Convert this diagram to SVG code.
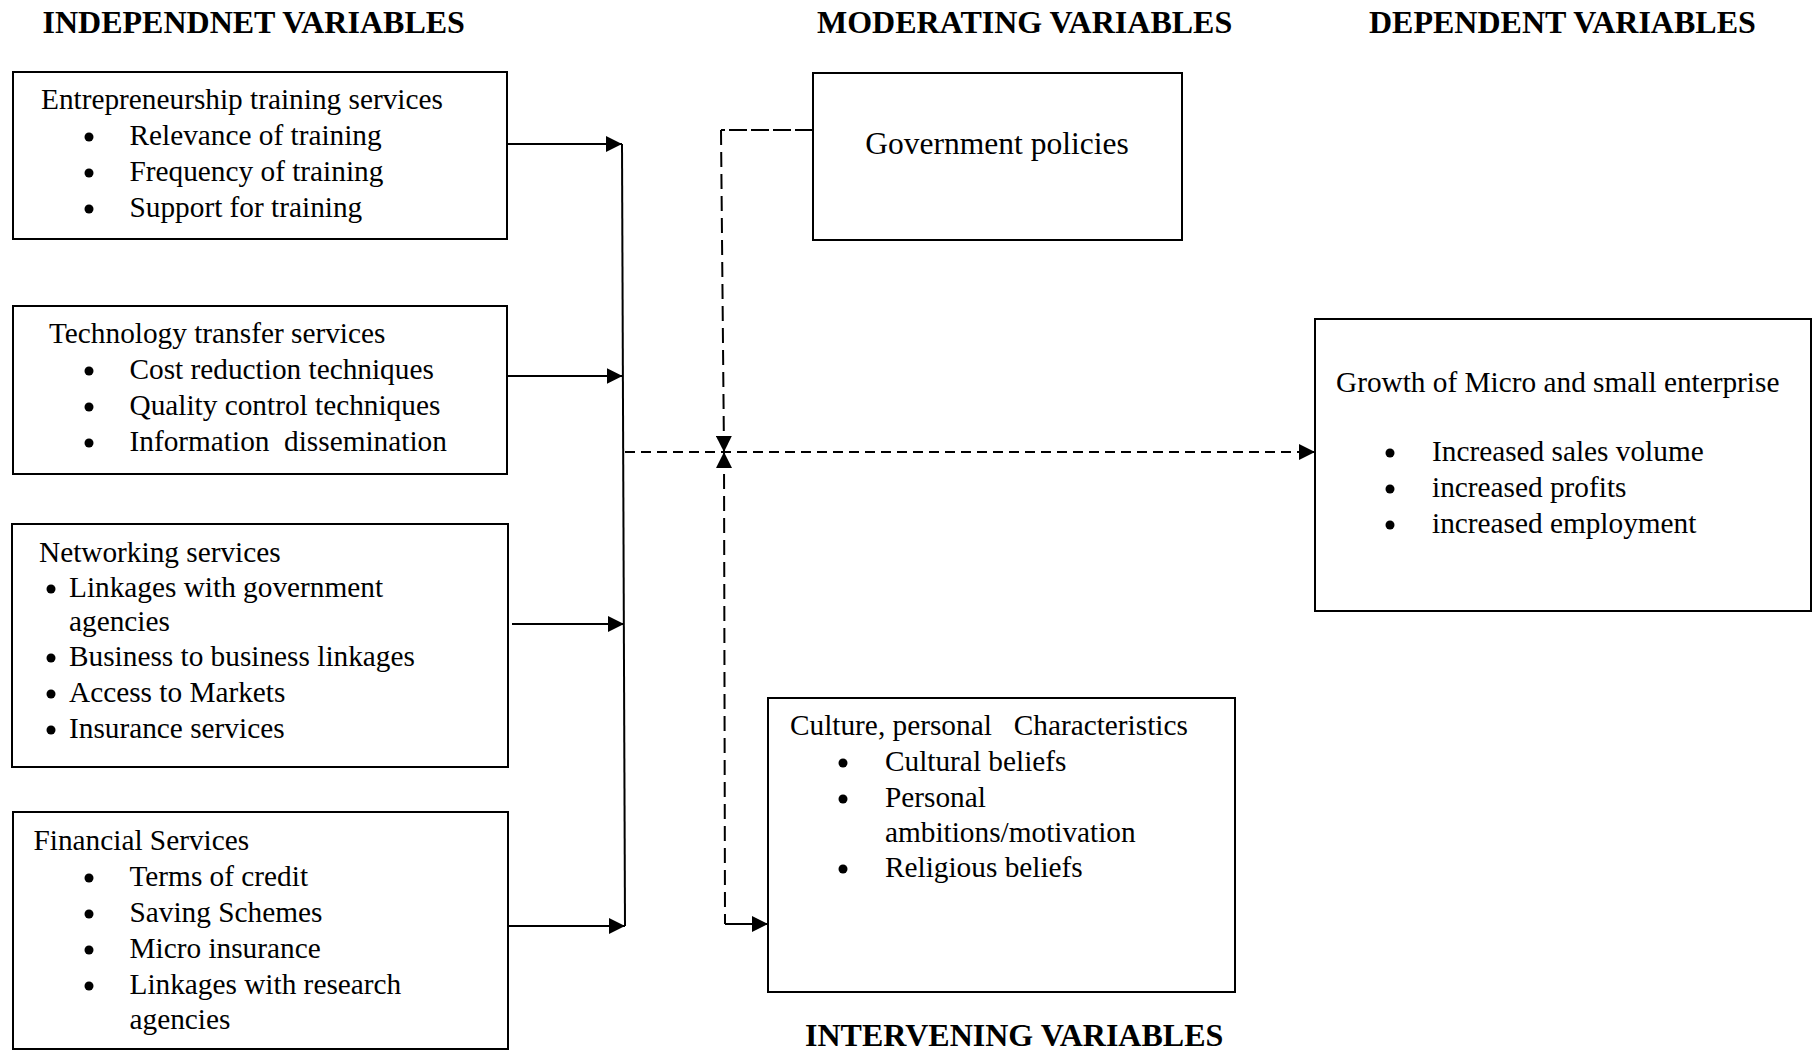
<svg xmlns="http://www.w3.org/2000/svg" width="1814" height="1050" viewBox="0 0 1814 1050">
<defs>
<marker id="arr" markerUnits="userSpaceOnUse" markerWidth="16" markerHeight="16" refX="15" refY="7.5" orient="auto-start-reverse" viewBox="0 0 15 15">
<path d="M0,0 L15,7.5 L0,15 Z" fill="#000"/>
</marker>
<style>
.box{fill:#fff;stroke:#000;stroke-width:2}
.t{font-family:"Liberation Serif","Times New Roman",serif;font-size:29.3px;fill:#000;white-space:pre}
.b{fill:#000}
.h{font-family:"Liberation Serif","Times New Roman",serif;font-size:32px;font-weight:bold;fill:#000}
.ln{fill:none;stroke:#000;stroke-width:2}
.dh{stroke-dasharray:10 6}
.dv{stroke-dasharray:15 7}
.dg{stroke-dasharray:18 4}
</style>
</defs>
<rect width="1814" height="1050" fill="#fff"/>

<g id="titles">
<text class="h" x="42.5" y="33">INDEPENDNET VARIABLES</text>
<text class="h" x="817" y="33">MODERATING VARIABLES</text>
<text class="h" x="1369" y="33">DEPENDENT VARIABLES</text>
<text class="h" x="805" y="1046">INTERVENING VARIABLES</text>
</g>

<g id="connectors">
<path class="ln" d="M622,144 L625,926"/>
<path class="ln" d="M503,144 L622,144" marker-end="url(#arr)"/>
<path class="ln" d="M507,376 L622.5,376" marker-end="url(#arr)"/>
<path class="ln" d="M512,624 L624,624" marker-end="url(#arr)"/>
<path class="ln" d="M508,926 L625,926" marker-end="url(#arr)"/>
<path class="ln dh" d="M625,452 L1315,452" marker-end="url(#arr)"/>
<path class="ln dg" d="M813,130 L721,130"/>
<path class="ln dv" d="M721,130 L724,452" marker-end="url(#arr)"/>
<path class="ln dv" d="M724,452 L725,924" marker-start="url(#arr)"/>
<path class="ln" d="M725,924 L768,924" marker-end="url(#arr)"/>
</g>

<g id="entrepreneurship">
<rect class="box" x="13" y="72" width="494" height="167"/>
<text class="t" x="41" y="109">Entrepreneurship training services</text>
<circle class="b" cx="89" cy="137" r="4.5"/><text class="t" x="129.5" y="145">Relevance of training</text>
<circle class="b" cx="89" cy="173" r="4.5"/><text class="t" x="129.5" y="181">Frequency of training</text>
<circle class="b" cx="89" cy="209" r="4.5"/><text class="t" x="129.5" y="217">Support for training</text>
</g>

<g id="technology">
<rect class="box" x="13" y="306" width="494" height="168"/>
<text class="t" x="49" y="343">Technology transfer services</text>
<circle class="b" cx="89" cy="371" r="4.5"/><text class="t" x="129.5" y="379">Cost reduction techniques</text>
<circle class="b" cx="89" cy="407" r="4.5"/><text class="t" x="129.5" y="415">Quality control techniques</text>
<circle class="b" cx="89" cy="443" r="4.5"/><text class="t" x="129.5" y="451">Information  dissemination</text>
</g>

<g id="networking">
<rect class="box" x="12" y="524" width="496" height="243"/>
<text class="t" x="39" y="562">Networking services</text>
<circle class="b" cx="51" cy="589" r="4.5"/><text class="t" x="69" y="597">Linkages with government</text>
<text class="t" x="69" y="631">agencies</text>
<circle class="b" cx="51" cy="658" r="4.5"/><text class="t" x="69" y="666">Business to business linkages</text>
<circle class="b" cx="51" cy="694" r="4.5"/><text class="t" x="69" y="702">Access to Markets</text>
<circle class="b" cx="51" cy="730" r="4.5"/><text class="t" x="69" y="738">Insurance services</text>
</g>

<g id="financial">
<rect class="box" x="13" y="812" width="495" height="237"/>
<text class="t" x="33.5" y="850">Financial Services</text>
<circle class="b" cx="89" cy="878" r="4.5"/><text class="t" x="129.5" y="886">Terms of credit</text>
<circle class="b" cx="89" cy="914" r="4.5"/><text class="t" x="129.5" y="922">Saving Schemes</text>
<circle class="b" cx="89" cy="950" r="4.5"/><text class="t" x="129.5" y="958">Micro insurance</text>
<circle class="b" cx="89" cy="986" r="4.5"/><text class="t" x="129.5" y="994">Linkages with research</text>
<text class="t" x="129.5" y="1029">agencies</text>
</g>

<g id="government">
<rect class="box" x="813" y="73" width="369" height="167"/>
<text class="t" x="997" y="154" text-anchor="middle" style="font-size:31.5px">Government policies</text>
</g>

<g id="growth">
<rect class="box" x="1315" y="319" width="496" height="292"/>
<text class="t" x="1336" y="392">Growth of Micro and small enterprise</text>
<circle class="b" cx="1390" cy="453" r="4.5"/><text class="t" x="1432" y="461">Increased sales volume</text>
<circle class="b" cx="1390" cy="489" r="4.5"/><text class="t" x="1432" y="497">increased profits</text>
<circle class="b" cx="1390" cy="525" r="4.5"/><text class="t" x="1432" y="533">increased employment</text>
</g>

<g id="culture">
<rect class="box" x="768" y="698" width="467" height="294"/>
<text class="t" x="790" y="735">Culture, personal   Characteristics</text>
<circle class="b" cx="843" cy="763" r="4.5"/><text class="t" x="885" y="771">Cultural beliefs</text>
<circle class="b" cx="843" cy="799" r="4.5"/><text class="t" x="885" y="807">Personal</text>
<text class="t" x="885" y="842">ambitions/motivation</text>
<circle class="b" cx="843" cy="869" r="4.5"/><text class="t" x="885" y="877">Religious beliefs</text>
</g>
</svg>
